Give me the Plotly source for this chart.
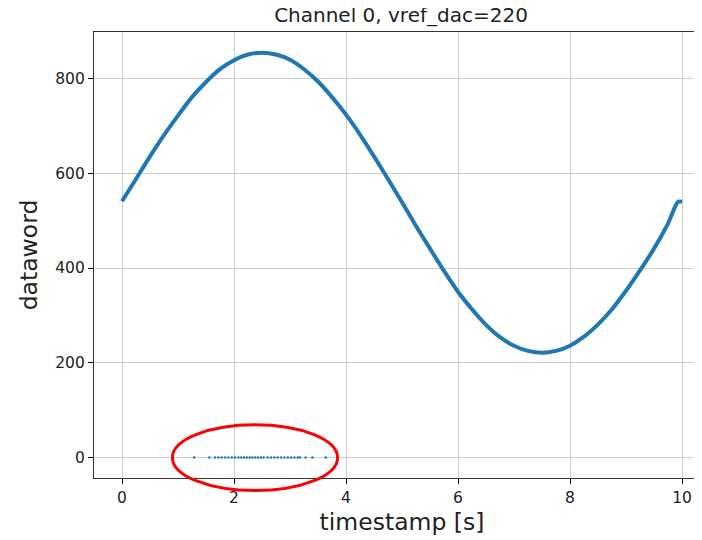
import plotly.graph_objects as go

# Sine-like dataword trace
timestamps = [0.0, 0.25, 0.5, 0.75, 1.0, 1.25, 1.5, 1.75, 2.0, 2.25, 2.5, 2.75,
              3.0, 3.25, 3.5, 3.75, 4.0, 4.25, 4.5, 4.75, 5.0, 5.25, 5.5, 5.75,
              6.0, 6.25, 6.5, 6.75, 7.0, 7.25, 7.5, 7.75, 8.0, 8.25, 8.5, 8.75,
              9.0, 9.25, 9.5, 9.75, 9.93, 10.0]
datawords = [541, 588, 636, 681, 722, 761, 793, 820, 839, 851, 855, 851,
             840, 820, 794, 761, 724, 682, 636, 588, 539, 489, 441, 394,
             350, 313, 280, 254, 236, 225, 221, 225, 236, 255, 281, 313,
             352, 395, 441, 494, 540, 540]

# Dropout samples at dataword 0
zero_times = [1.29, 1.56, 1.66, 1.72, 1.78, 1.84, 1.90, 1.96, 2.02, 2.08, 2.13,
              2.18, 2.23, 2.28, 2.33, 2.38, 2.43, 2.48, 2.53, 2.60, 2.66, 2.72,
              2.78, 2.84, 2.90, 2.96, 3.02, 3.08, 3.14, 3.18, 3.28, 3.40, 3.64]
zero_values = [0] * len(zero_times)

title = "Channel 0, vref_dac=220"
x_label = "timestamp [s]"
y_label = "dataword"
x_ticks = [0, 2, 4, 6, 8, 10]
y_ticks = [0, 200, 400, 600, 800]

# annotation ellipse (data coordinates)
ell_x = (0.9, 3.85)
ell_y = (-70, 69)

x_range = [-0.5, 10.5]
y_range = [-43.5, 898.6]

blue = "#1f77b4"
font = "DejaVu Sans"

fig = go.Figure()
fig.add_trace(go.Scatter(x=timestamps, y=datawords, mode="lines",
                         line=dict(color=blue, width=4, shape="spline", smoothing=0.8),
                         showlegend=False))
fig.add_trace(go.Scatter(x=zero_times, y=zero_values, mode="markers",
                         marker=dict(color=blue, size=2.5),
                         showlegend=False))

def px(v):
    return (v - x_range[0]) / (x_range[1] - x_range[0])

def py(v):
    return (v - y_range[0]) / (y_range[1] - y_range[0])

fig.add_shape(type="circle", xref="paper", yref="paper",
              x0=px(ell_x[0]), x1=px(ell_x[1]), y0=py(ell_y[0]), y1=py(ell_y[1]),
              line=dict(color="red", width=3))

fig.update_layout(
    width=702, height=540,
    margin=dict(l=86, r=0, t=24, b=70, autoexpand=False),
    paper_bgcolor="white", plot_bgcolor="white",
    font=dict(family=font, color="#222222"),
    title=dict(text=title, x=393 / 702, xanchor="center",
               y=1.0, yanchor="top", pad=dict(t=0, b=0),
               font=dict(size=20, family=font, color="#222222")),
)
fig.update_xaxes(range=x_range, tickvals=x_ticks, ticks="outside", ticklen=5,
                 tickcolor="black", showline=True, linecolor="#333333", linewidth=1.2,
                 mirror=True, showgrid=True, gridcolor="#cfcfcf", gridwidth=1,
                 zeroline=False, tickfont=dict(size=15.5), automargin=False,
                 title=dict(text=x_label, font=dict(size=23.5), standoff=7))
fig.update_yaxes(range=y_range, tickvals=y_ticks, ticks="outside", ticklen=5,
                 tickcolor="black", showline=True, linecolor="#333333", linewidth=1.2,
                 showgrid=True, gridcolor="#cfcfcf", gridwidth=1,
                 zeroline=False, tickfont=dict(size=15.5), automargin=False,
                 title=dict(text=y_label, font=dict(size=23.5), standoff=10))

fig.write_html("out.html")
